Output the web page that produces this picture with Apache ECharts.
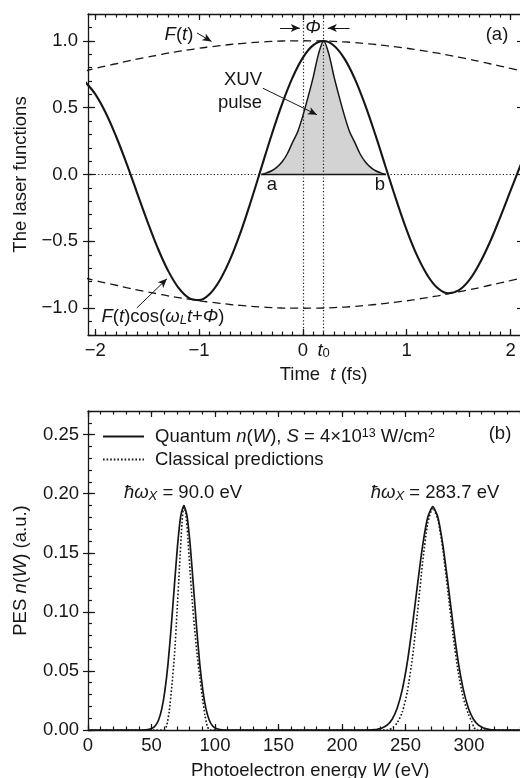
<!DOCTYPE html>
<html><head><meta charset="utf-8">
<script src="https://cdn.jsdelivr.net/npm/echarts@6/dist/echarts.min.js"></script>
<style>html,body{margin:0;padding:0;background:#fff}#c{width:520px;height:778px}</style>
</head><body><div id="c"></div>
<script>
// ---------- Panel (a): laser functions ----------
const timeFs = [-2.1,-2.0,-1.9,-1.8,-1.7,-1.6,-1.5,-1.4,-1.3,-1.2,-1.1,-1.0,-0.9,-0.8,-0.7,-0.6,-0.5,-0.4,-0.3,-0.2,-0.1,0.0,0.1,0.2,0.3,0.4,0.5,0.6,0.7,0.8,0.9,1.0,1.1,1.2,1.3,1.4,1.5,1.6,1.7,1.8,1.9,2.0,2.1];
const envelopeF = [0.774,0.793,0.811,0.828,0.846,0.862,0.877,0.892,0.907,0.920,0.932,0.944,0.954,0.963,0.972,0.979,0.986,0.991,0.995,0.998,0.999,1.000,0.999,0.998,0.995,0.991,0.986,0.979,0.972,0.963,0.954,0.944,0.932,0.920,0.907,0.892,0.877,0.862,0.846,0.828,0.811,0.793,0.774];
const envelopeNeg = [-0.774,-0.793,-0.811,-0.828,-0.846,-0.862,-0.877,-0.892,-0.907,-0.920,-0.932,-0.944,-0.954,-0.963,-0.972,-0.979,-0.986,-0.991,-0.995,-0.998,-0.999,-1.000,-0.999,-0.998,-0.995,-0.991,-0.986,-0.979,-0.972,-0.963,-0.954,-0.944,-0.932,-0.920,-0.907,-0.892,-0.877,-0.862,-0.846,-0.828,-0.811,-0.793,-0.774];
const laserField = [0.694,0.601,0.462,0.286,0.085,-0.131,-0.346,-0.547,-0.717,-0.845,-0.922,-0.939,-0.895,-0.790,-0.633,-0.432,-0.198,0.051,0.299,0.528,0.724,0.874,0.967,0.998,0.963,0.866,0.715,0.518,0.292,0.049,-0.192,-0.416,-0.607,-0.754,-0.851,-0.888,-0.867,-0.792,-0.668,-0.508,-0.320,-0.121,0.077];
const pulseTime = [-0.40,-0.35,-0.30,-0.25,-0.20,-0.15,-0.10,-0.05,0.00,0.05,0.10,0.15,0.20,0.25,0.30,0.35,0.40,0.45,0.50,0.55,0.60,0.65,0.70,0.75,0.80];
const pulseAmp  = [0,0.012,0.028,0.055,0.095,0.155,0.24,0.32,0.44,0.58,0.73,0.90,1.0,0.90,0.73,0.58,0.44,0.32,0.24,0.155,0.095,0.055,0.028,0.012,0];
const aXTicks = [-2,-1,0,1,2];
const aXLabels = [-2,-1,0,0.2,1,2];
const aYTicks = [-1,-0.5,0,0.5,1];

// ---------- Panel (b): photoelectron spectra ----------
const quantumW = [0,40,45.5,48,50.5,53,55.5,58,60.5,63,65.5,68,70.5,73,75.5,78,80.5,83,85.5,88,90.5,93,95.5,98,100.5,103,105.5,110,220,223.5,227.5,231.5,235.5,239.5,243.5,247.5,251.5,255.5,259.5,263.5,267.5,271.5,275.5,279.5,283.5,287.5,291.5,295.5,299.5,303.5,307.5,311.5,315.5,319.5,350];
const quantumN = [0,0,0.0002,0.0005,0.0014,0.0036,0.0083,0.0174,0.033,0.056,0.087,0.122,0.156,0.181,0.190,0.181,0.156,0.122,0.087,0.056,0.033,0.0174,0.0083,0.0036,0.0014,0.0005,0.0002,0,0,0.0001,0.0006,0.0017,0.0041,0.0091,0.0186,0.0344,0.0579,0.0887,0.1235,0.156,0.180,0.189,0.180,0.156,0.1235,0.0887,0.0579,0.0344,0.0186,0.0091,0.0041,0.0017,0.0006,0.0001,0];
const classicalW = [0,60,62,64,66,68,70,72,74,75.5,77,78.5,80,82,84,86,88,90,92,94,96,236,240,243.5,247.5,251.5,255.5,259.5,263.5,267.5,271.5,275.5,279.5,283.5,287.5,291.5,295.5,299.5,302,304,306,350];
const classicalN = [0,0,0.004,0.016,0.037,0.062,0.098,0.137,0.175,0.190,0.183,0.165,0.140,0.110,0.085,0.063,0.045,0.028,0.013,0.003,0,0,0.002,0.0061,0.0152,0.0328,0.0615,0.100,0.142,0.175,0.188,0.178,0.152,0.116,0.0796,0.049,0.0272,0.0135,0.0075,0.002,0,0];
const bXTicks = [0,50,100,150,200,250,300,350];
const bYTicks = [0,0.05,0.10,0.15,0.20,0.25];

// ---------- styling ----------
const FONT = 'Liberation Sans, Arial, sans-serif';
const FS = 18.5;
const INK = '#161616';
function tickRange(a, b, step) {
  const out = []; const n = Math.round((b - a) / step);
  for (let k = 0; k <= n; k++) out.push(+(a + k * step).toFixed(6));
  return out;
}
const aXMinor = tickRange(-2.0, 2.1, 0.1);
const aYMinor = tickRange(-1.2, 1.2, 0.1);
const bXMinor = tickRange(0, 350, 10);
const bYMinor = tickRange(0, 0.27, 0.01);
const minus = v => String(v).replace('-', '\u2212');

const richEC = {
  i:   {fontStyle:'italic', fontSize:FS, fontFamily:FONT, color:INK},
  r:   {fontSize:FS, fontFamily:FONT, color:INK},
  sub: {fontStyle:'normal', fontSize:13, fontFamily:FONT, color:INK, verticalAlign:'bottom', lineHeight:9},
  sup: {fontSize:12.5, fontFamily:FONT, color:INK, verticalAlign:'top', lineHeight:9}
};
const lineS = {color:INK, width:1.3};
const tickS = {color:INK, width:1.2};

function xAxesFor(grid, min, max, majors, minors, label, name, nameGap, namePad) {
  const base = {type:'value', gridIndex:grid, min, max, splitLine:{show:false}, minorTick:{show:false}};
  return [
    Object.assign({}, base, {position:'bottom',
      axisLine:{show:true, onZero:false, lineStyle:lineS},
      axisTick:{show:true, customValues:majors, inside:true, length:6, lineStyle:tickS},
      axisLabel:label, name, nameLocation:'middle', nameGap,
      nameTextStyle:{fontSize:FS, fontFamily:FONT, color:INK, padding:namePad, rich:richEC}}),
    Object.assign({}, base, {position:'bottom', axisLine:{show:false, onZero:false},
      axisTick:{show:true, customValues:minors, inside:true, length:3.5, lineStyle:tickS}, axisLabel:{show:false}}),
    Object.assign({}, base, {position:'top', axisLine:{show:true, onZero:false, lineStyle:lineS},
      axisTick:{show:true, customValues:majors, inside:true, length:6, lineStyle:tickS}, axisLabel:{show:false}}),
    Object.assign({}, base, {position:'top', axisLine:{show:false, onZero:false},
      axisTick:{show:true, customValues:minors, inside:true, length:3.5, lineStyle:tickS}, axisLabel:{show:false}})
  ];
}
function yAxesFor(grid, min, max, majors, minors, label, name, nameGap) {
  const base = {type:'value', gridIndex:grid, min, max, splitLine:{show:false}, minorTick:{show:false}};
  return [
    Object.assign({}, base, {position:'left',
      axisLine:{show:true, onZero:false, lineStyle:lineS},
      axisTick:{show:true, customValues:majors, inside:false, length:5, lineStyle:tickS},
      axisLabel:label, name, nameLocation:'middle', nameGap, nameRotate:90,
      nameTextStyle:{fontSize:FS, fontFamily:FONT, color:INK, rich:richEC}}),
    Object.assign({}, base, {position:'left', axisLine:{show:false, onZero:false},
      axisTick:{show:true, customValues:majors, inside:true, length:7, lineStyle:tickS}, axisLabel:{show:false}}),
    Object.assign({}, base, {position:'left', axisLine:{show:false, onZero:false},
      axisTick:{show:true, customValues:minors, inside:true, length:4, lineStyle:tickS}, axisLabel:{show:false}}),
    Object.assign({}, base, {position:'right', axisLine:{show:true, onZero:false, lineStyle:lineS},
      axisTick:{show:true, customValues:majors, inside:true, length:6, lineStyle:tickS}, axisLabel:{show:false}})
  ];
}

const labelBase = {show:true, fontSize:FS, fontFamily:FONT, color:INK, interval:0, hideOverlap:false};
const xA = xAxesFor(0, -2.07, 2.12, aXTicks, aXMinor,
  Object.assign({}, labelBase, {customValues:aXLabels, margin:6, rich:richEC,
    formatter: v => Math.abs(v - 0.2) < 1e-6 ? '{i|t}{sub|0}' : minus(v)}),
  'Time  {i|t} (fs)', 30, [0,0,0,36]);
const yA = yAxesFor(0, -1.2, 1.2, aYTicks, aYMinor,
  Object.assign({}, labelBase, {customValues:aYTicks, margin:10, formatter: v => minus(v.toFixed(1))}),
  'The laser functions', 51);
const xB = xAxesFor(1, 0, 350, bXTicks, bXMinor,
  Object.assign({}, labelBase, {customValues:bXTicks.slice(0,7), margin:6, formatter: v => String(v)}),
  'Photoelectron energy {i|W} (eV)', 31, [0,0,0,0]);
const yB = yAxesFor(1, 0, 0.27, bYTicks, bYMinor,
  Object.assign({}, labelBase, {customValues:bYTicks, margin:9, formatter: v => v.toFixed(2)}),
  'PES {i|n}({i|W}) (a.u.)', 58);

const pairs = (xs, ys) => xs.map((x, i) => [x, ys[i]]);

const richG = {
  i:   {fontStyle:'italic', fontSize:FS, fontFamily:FONT, fill:INK},
  sub: {fontStyle:'italic', fontSize:13, fontFamily:FONT, fill:INK, verticalAlign:'bottom', lineHeight:9},
  subr:{fontSize:13, fontFamily:FONT, fill:INK, verticalAlign:'bottom', lineHeight:9}
};
function txt(x, y, text, extra) {
  return {type:'text', x, y, silent:true, z:100,
    style:Object.assign({text, fill:INK, fontSize:FS, fontFamily:FONT, align:'center', verticalAlign:'middle', rich:richG}, extra || {})};
}

const legendText = {fontSize:FS, fontFamily:FONT, color:INK, padding:[0,0,0,6], rich:{
  i:{fontStyle:'italic', fontSize:FS, fontFamily:FONT, color:INK},
  sup:{fontSize:12.5, fontFamily:FONT, color:INK, verticalAlign:'top', lineHeight:5}}};
const legendCommon = {left:102, padding:0, itemWidth:41, itemHeight:14, selectedMode:false,
  itemStyle:{opacity:0, color:'rgba(0,0,0,0)', borderWidth:0}, textStyle:legendText};

const option = {
  animation:false,
  backgroundColor:'#ffffff',
  grid:[
    {left:88, top:14, width:435, height:321, containLabel:false, outerBoundsMode:'none'},
    {left:88, top:411, width:444.5, height:319, containLabel:false, outerBoundsMode:'none'}
  ],
  xAxis: xA.concat(xB),
  yAxis: yA.concat(yB),
  legend:[
    Object.assign({}, legendCommon, {data:['Quantum'], top:427,
      formatter:() => 'Quantum {i|n}({i|W}), {i|S} = 4\u00d710{sup|13} W/cm{sup|2}'}),
    Object.assign({}, legendCommon, {data:['Classical'], top:450,
      formatter:() => 'Classical predictions'})
  ],
  series:[
    {name:'XUV pulse', type:'line', xAxisIndex:0, yAxisIndex:0, data:pairs(pulseTime, pulseAmp),
     symbol:'none', smooth:0.3, z:1, lineStyle:{color:INK, width:1.5}, areaStyle:{color:'#d3d3d3', opacity:1},
     markLine:{silent:true, symbol:['none','none'], label:{show:false}, animation:false,
       lineStyle:{color:INK, width:1.2, type:[1.2,2.2]},
       data:[{xAxis:0},{xAxis:0.2},{yAxis:0},
         [{coord:[-0.4,0], lineStyle:{type:'solid', width:1.3, color:INK}},{coord:[0.8,0]}]]}},
    {name:'F(t)', type:'line', xAxisIndex:0, yAxisIndex:0, data:pairs(timeFs, envelopeF),
     symbol:'none', smooth:true, z:2, lineStyle:{color:INK, width:1.3, type:[8,5]}},
    {name:'-F(t)', type:'line', xAxisIndex:0, yAxisIndex:0, data:pairs(timeFs, envelopeNeg),
     symbol:'none', smooth:true, z:2, lineStyle:{color:INK, width:1.3, type:[8,5]}},
    {name:'Laser field', type:'line', xAxisIndex:0, yAxisIndex:0, data:pairs(timeFs, laserField),
     symbol:'none', smooth:0.4, z:3, lineStyle:{color:INK, width:2.1},
     markLine:{silent:true, symbol:['none','arrow'], symbolSize:[6,9], label:{show:false}, animation:false,
       lineStyle:{color:INK, width:1, type:'solid'},
       data:[
         [{coord:[-0.22,1.095]},{coord:[-0.03,1.095]}],
         [{coord:[0.45,1.095]},{coord:[0.24,1.095]}],
         [{coord:[-1.02,1.058]},{coord:[-0.88,0.995]}],
         [{coord:[-0.385,0.645]},{coord:[0.135,0.447]}],
         [{coord:[-1.60,-0.998]},{coord:[-1.31,-0.78]}]
       ]}},
    {name:'Quantum', type:'line', xAxisIndex:4, yAxisIndex:4, data:pairs(quantumW, quantumN),
     symbol:'none', smooth:0.2, z:3, lineStyle:{color:INK, width:1.7}, itemStyle:{color:INK}},
    {name:'Classical', type:'line', xAxisIndex:4, yAxisIndex:4, data:pairs(classicalW, classicalN),
     symbol:'none', smooth:0.2, z:4, lineStyle:{color:INK, width:1.6, type:[1.6,2.0]}, itemStyle:{color:INK}}
  ],
  graphic:[
    txt(179, 35, '{i|F}({i|t})'),
    txt(497, 35, '(a)'),
    txt(313, 28, '{i|\u03a6}', {fontSize:17}),
    txt(243, 80, 'XUV'),
    txt(240, 103, 'pulse'),
    txt(272, 185, 'a'),
    txt(380, 185, 'b'),
    txt(163, 317, '{i|F}({i|t})cos({i|\u03c9}{sub|L}{i|t}+{i|\u03a6})'),
    txt(500, 434, '(b)'),
    txt(183, 493, '{i|\u0127\u03c9}{sub|X} = 90.0 eV'),
    txt(435, 493, '{i|\u0127\u03c9}{sub|X} = 283.7 eV')
  ]
};
const chart = echarts.init(document.getElementById('c'), null, {renderer:'canvas'});
chart.setOption(option);
</script>
</body></html>
